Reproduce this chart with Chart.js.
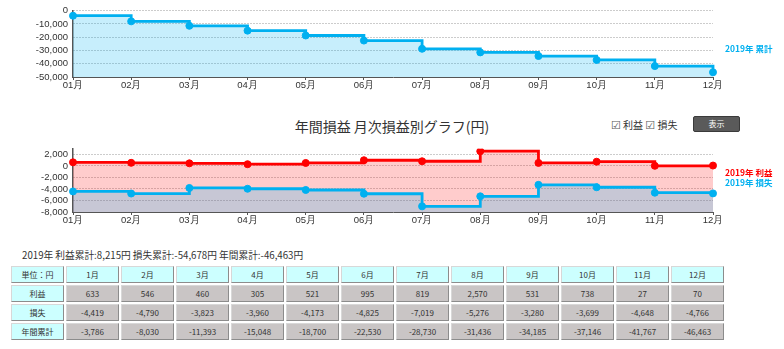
<!DOCTYPE html>
<html lang="ja">
<head>
<meta charset="UTF-8">
<title>年間損益 月次損益別グラフ</title>
<script src="https://cdn.jsdelivr.net/npm/chart.js"></script>
<style>
  body { margin: 0; background: #fff; font-family: "Noto Sans CJK JP", "Liberation Sans", sans-serif; color: #333; }
  #page { position: relative; width: 784px; height: 349px; overflow: hidden; }
  canvas { position: absolute; left: 0; }
  .tag { position: absolute; font-size: 8.5px; font-weight: bold; white-space: nowrap; line-height: 10px; }
  #title { position: absolute; left: 0; width: 784px; top: 117px; text-align: center; font-size: 14px; line-height: 18px; }
  #checks { position: absolute; left: 611px; top: 118px; font-size: 10px; line-height: 13px; white-space: nowrap; }
  #checks .box { font-family: "DejaVu Sans"; font-size: 11px; color: #555; }
  #btn { position: absolute; left: 693px; top: 116px; width: 45px; height: 14px; background: #5a5a5a; border: 1px solid #3a3a3a;
         border-radius: 2px; color: #fff; font-size: 8px; line-height: 14px; text-align: center; }
  #summary { position: absolute; left: 22px; top: 249px; font-size: 9.7px; line-height: 13px; white-space: nowrap; }
  #tbl { position: absolute; left: 9px; top: 264px; border-collapse: separate; border-spacing: 2px; }
  #tbl td { height: 15px; padding: 0; font-size: 8px; text-align: center; color: #333;
            border: 1px solid; border-color: #d8d8d8 #8c8c8c #8c8c8c #d8d8d8; }
  #tbl td.h { background: #ccffff; }
  #tbl td.d { background: #c9c5c5; }
</style>
</head>
<body>
<div id="page">
  <canvas id="cumChart" width="784" height="92" style="top:0"></canvas>
  <div class="tag" style="left:725px; top:43px; color:#00b0f0">2019年 累計</div>

  <div id="title">年間損益 月次損益別グラフ(円)</div>
  <div id="checks"><span class="box">☑</span> 利益 <span class="box">☑</span> 損失</div>
  <div id="btn">表示</div>

  <canvas id="monthChart" width="784" height="88" style="top:138px"></canvas>
  <div class="tag" style="left:725px; top:167px; color:#ff0000">2019年 利益</div>
  <div class="tag" style="left:725px; top:177px; color:#00b0f0">2019年 損失</div>

  <div id="summary">2019年 利益累計:8,215円 損失累計:-54,678円 年間累計:-46,463円</div>
  <table id="tbl"></table>
</div>

<script>
const months = ['01月', '02月', '03月', '04月', '05月', '06月', '07月', '08月', '09月', '10月', '11月', '12月'];
const tableMonths = ['1月', '2月', '3月', '4月', '5月', '6月', '7月', '8月', '9月', '10月', '11月', '12月'];
const profit = [633, 546, 460, 305, 521, 995, 819, 2570, 531, 738, 27, 70];
const loss = [-4419, -4790, -3823, -3960, -4173, -4825, -7019, -5276, -3280, -3699, -4648, -4766];
const cumulative = [-3786, -8030, -11393, -15048, -18700, -22530, -28730, -31436, -34185, -37146, -41767, -46463];
const cumTicks = [0, -10000, -20000, -30000, -40000, -50000];
const monthTicks = [2000, 0, -2000, -4000, -6000, -8000];

const blue = '#00b0f0';
const red = '#ff0000';
const fmt = v => Number(v).toLocaleString('en-US');
const tickFont = { family: 'Liberation Sans', size: 9.5 };

function scales(yMin, yMax, yTicks, xHeight) {
  return {
    x: {
      offset: false,
      grid: { drawOnChartArea: false, tickLength: 3, color: '#555' },
      border: { color: '#555', width: 1 },
      ticks: { font: tickFont, color: '#333', padding: 0, maxRotation: 0, autoSkip: false },
      afterFit: s => { s.height = xHeight; }
    },
    y: {
      min: yMin, max: yMax,
      afterBuildTicks: s => { s.ticks = yTicks.map(v => ({ value: v })); },
      grid: { color: '#999', drawTicks: false },
      border: { color: '#555', width: 1.5, dash: [1, 2] },
      ticks: { font: tickFont, color: '#333', padding: 5, autoSkip: false, callback: fmt },
      afterFit: s => { s.width = 73; }
    }
  };
}

const common = {
  responsive: false,
  animation: false,
  plugins: { legend: { display: false }, tooltip: { enabled: false } },
  elements: { line: { borderWidth: 2.8, tension: 0 }, point: { radius: 3.5, borderWidth: 1, borderColor: '#fff' } }
};

new Chart(document.getElementById('cumChart'), {
  type: 'line',
  data: {
    labels: months,
    datasets: [{
      data: cumulative,
      borderColor: blue,
      backgroundColor: 'rgba(0,176,240,0.22)',
      pointBackgroundColor: blue,
      stepped: true,
      fill: 'start'
    }]
  },
  options: Object.assign({}, common, {
    layout: { padding: { top: 10, right: 71, left: 0, bottom: 0 }, autoPadding: false },
    scales: scales(-50000, 0, cumTicks, 15)
  })
});

new Chart(document.getElementById('monthChart'), {
  type: 'line',
  data: {
    labels: months,
    datasets: [{
      data: profit,
      borderColor: red,
      backgroundColor: 'rgba(255,0,0,0.2)',
      pointBackgroundColor: red,
      stepped: true,
      fill: 'start',
      order: 2
    }, {
      data: loss,
      borderColor: blue,
      backgroundColor: 'rgba(0,176,240,0.22)',
      pointBackgroundColor: blue,
      stepped: true,
      fill: 'start',
      order: 1
    }]
  },
  options: Object.assign({}, common, {
    layout: { padding: { top: 7, right: 71, left: 0, bottom: 0 }, autoPadding: false },
    scales: scales(-8000, 3000, monthTicks, 14)
  })
});

// table below the charts
const rows = [
  ['単位：円', tableMonths, 'h'],
  ['利益', profit.map(fmt), 'd'],
  ['損失', loss.map(fmt), 'd'],
  ['年間累計', cumulative.map(fmt), 'd']
];
const tbl = document.getElementById('tbl');
rows.forEach(([label, cells, cls]) => {
  const tr = document.createElement('tr');
  const th = document.createElement('td');
  th.className = 'h';
  th.style.width = '51px';
  th.textContent = label;
  tr.appendChild(th);
  cells.forEach(c => {
    const td = document.createElement('td');
    td.className = cls;
    td.style.width = '51px';
    td.textContent = c;
    tr.appendChild(td);
  });
  tbl.appendChild(tr);
});
</script>
</body>
</html>
